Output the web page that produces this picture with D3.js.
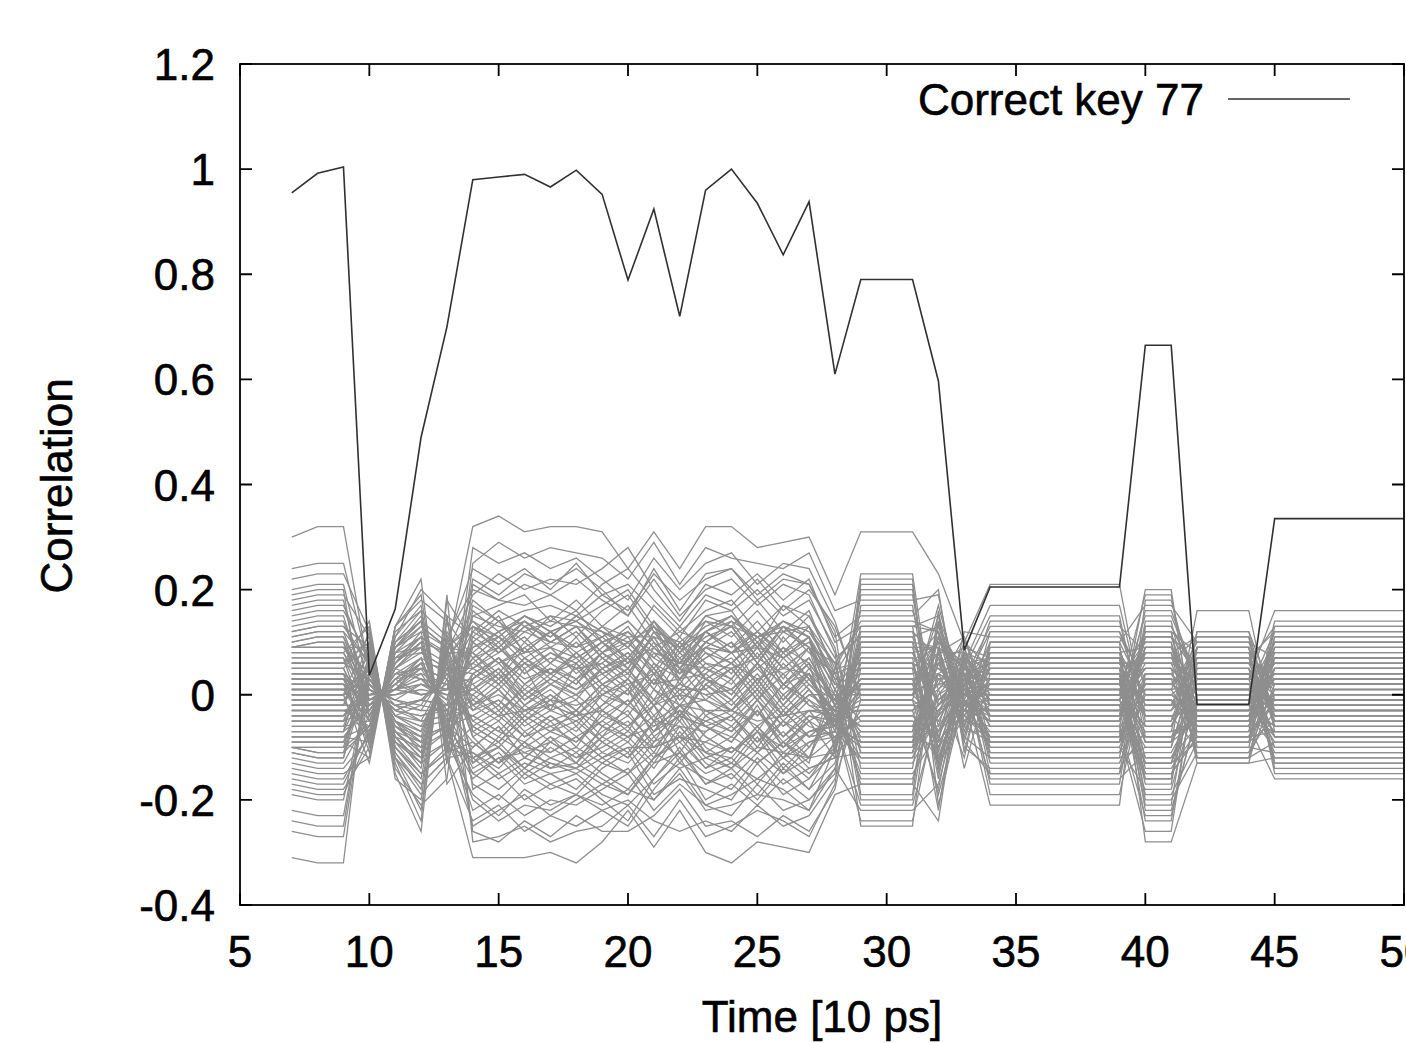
<!DOCTYPE html>
<html>
<head>
<meta charset="utf-8">
<script src="https://cdn.jsdelivr.net/npm/d3@7"></script>
<style>
  body { margin: 0; background: #fff; }
  text { font-family: "Liberation Sans", Arial, sans-serif; fill: #000; stroke: #000; stroke-width: 0.6px; }
</style>
</head>
<body>
<div id="chart"></div>
<script>
// correct key, one value per time step 7..50
var times = d3.range(7, 51);
var correctKey = [0.955, 0.992, 1.004, 0.037, 0.163, 0.49, 0.70, 0.98, 0.985, 0.99, 0.966, 0.998, 0.952,
    0.789, 0.924, 0.72, 0.96, 1.0, 0.935, 0.837, 0.938, 0.61, 0.79, 0.79, 0.79, 0.597, 0.085,
    0.205, 0.205, 0.205, 0.205, 0.205, 0.205, 0.665, 0.665, -0.018, -0.018, -0.018,
    0.335, 0.335, 0.335, 0.335, 0.335, 0.335];

// wrong keys: time steps covered by each column (flat runs share one column)
var colTimes = [[7], [8, 9], [10], [11], [12], [13], [14], [15], [16], [17], [18], [19], [20], [21],
    [22], [23], [24], [25], [26], [27], [28], [29, 30, 31], [32], [33], [34, 35, 36, 37, 38, 39],
    [40, 41], [42, 43, 44], [45, 46, 47, 48, 49, 50]];

// wrong key correlations in hundredths, one array per column, same line order in each
var c7 = [30,-13,5,-2,12,-9,20,-31, 1,8,-5,15,-17,3,-10,24, -7,9,-1,-22,6,17,-11,0, -4,11,-15,22,-8,4,-26,13,
    -3,9,-19,7,-10,2,18,-6, 10,-14,-24,14,6,-12,8,-2, 3,-9,16,-16,0,10,-5,19, -10,5,-7,9,-18,12,-4,2,
    6,-3,1,-8,4,-1,9,-5, 2,-11,7,0,-6,3,-9,5, -2,8,-4,1,-7,11,-1,4, 9,-10,0,3,-3,6,-8,1];
var c8 = [32,-14,5,-2,13,-9,21,-32, 1,8,-5,16,-18,3,-11,25, -7,10,-1,-23,6,18,-12,0, -4,12,-16,23,-8,4,-27,14,
    -3,9,-20,7,-10,2,19,-6, 11,-15,-25,15,6,-13,8,-2, 3,-9,17,-17,0,11,-5,20, -11,5,-7,9,-19,13,-4,2,
    6,-3,1,-8,4,-1,10,-5, 2,-12,7,0,-6,3,-9,5, -2,8,-4,1,-7,12,-1,4, 9,-10,0,3,-3,6,-8,1];
var c10 = [4,-8,11,-2,6,-12,1,9, -5,13,-3,7,-10,2,-6,5, 10,-1,-9,3,14,-4,8,-13, 0,6,-7,12,-2,-11,4,1,
    -6,9,3,-3,7,-8,11,-5, 2,-12,5,-1,8,-4,0,10, -9,3,6,-7,12,-2,1,-10, 7,-5,-3,4,-8,9,2,-1,
    3,-1,5,-6,0,2,-4,7, -2,4,-8,1,6,-3,0,-5, 8,-2,2,-7,3,-1,5,-4, 1,-6,4,0,-3,10,-9,2];
var c11 = [-5,9,-12,1,-7,13,-2,-10, 6,-15,4,-8,11,-3,7,-4, -11,2,10,-4,-16,5,-9,13, 1,-7,8,-13,3,12,-5,-1,
    7,-10,-2,4,-8,9,-12,6, -3,13,-6,2,-9,5,0,-11, 10,-4,-7,8,-14,3,-1,11, -8,6,2,-5,9,-10,-3,1,
    -4,2,-6,5,1,-3,3,-8, 1,-5,9,-2,-7,4,1,6, -9,3,-1,8,-4,0,-6,5, -2,7,-5,1,4,-12,10,-3];
var c12 = [-11,15,-22,6,-9,19,-3,-16, 12,-26,3,-14,17,-1,9,-6, -18,7,14,-2,-20,10,-13,22, 4,-12,11,-24,0,16,-7,2,
    8,-15,-5,5,-10,13,-19,10, -1,18,-8,6,-12,3,1,-17, 14,-5,-11,9,-21,7,-2,20, -13,11,0,-9,12,-15,-4,5,
    -7,5,-10,9,2,-5,6,-13, 3,-8,14,-1,-12,7,0,10, -15,4,-3,13,-6,2,-9,8, -1,11,-8,3,5,-17,16,-4];
var c13 = [8,-10,14,-4,7,-13,5,11, -9,18,-2,10,-12,4,-6,3, 12,-5,-9,6,15,-7,9,-17, -3,8,-8,19,1,-11,5,-1,
    5,-11,-4,3,-7,9,-13,8, -2,14,-6,5,-9,1,0,-12, 10,-4,-7,6,-16,4,-3,15, -9,7,1,-6,9,-10,-2,3,
    5,-3,7,-6,0,4,-4,9, -1,6,-10,2,8,-5,1,-7, -11,2,-3,9,-5,1,-6,5, -2,8,-6,2,3,-12,11,-3];
var c14 = [32,-12,7,-25,14,3,-8,20, -19,10,-4,24,-31,1,16,-6, 5,-15,28,-2,11,-22,8,-10, -14,19,0,-28,6,13,-5,17,
    2,-9,22,-17,9,-3,25,-13, 15,-7,-20,4,-11,18,1,-24, -1,12,-16,8,21,-6,3,-18, 10,-26,5,-4,13,-12,7,-2,
    9,-4,13,-10,2,6,-1,-7, 15,-12,4,-3,8,-15,0,11, -6,3,-9,14,-2,7,-13,5, 1,-8,10,-5,12,-11,-2,4];
var c15 = [34,-10,11,-22,9,7,-13,18, -23,6,-1,21,-31,5,12,-9, 8,-18,25,2,15,-19,3,-6, -11,23,-4,-27,10,8,-2,14,
    -3,-13,19,-20,12,1,29,-8, 17,-4,-24,7,-15,14,-2,-21, 3,16,-12,4,18,-9,7,-15, 6,-28,9,-7,11,-16,2,0,
    11,-7,10,-6,5,3,-4,-10, 13,-9,1,-1,12,-12,4,8, -3,6,-13,11,-5,9,-10,2, 4,-5,14,-8,9,-14,1,7];
var c16 = [31,-14,6,-19,13,2,-9,21, -18,9,-6,24,-31,-1,15,-4, 11,-14,27,-3,8,-23,6,-12, -16,20,2,-25,4,12,-7,10,
    1,-10,23,-15,14,-5,26,-11, 19,-8,-21,3,-12,16,5,-26, -2,13,-17,10,17,-4,0,-20, 8,-24,4,-9,15,-13,7,-3,
    8,-2,14,-12,0,9,-3,-5, 12,-14,6,-5,7,-11,-2,13, -8,1,-7,15,0,5,-15,7, -1,-10,8,-3,14,-9,-4,2];
var c17 = [32,-9,9,-23,11,5,-14,19, -21,12,-3,20,-30,2,13,-7, 6,-17,24,0,12,-20,4,-8, -13,22,-1,-28,8,10,-4,15,
    -2,-11,21,-18,10,-1,28,-9, 14,-6,-22,5,-14,17,-3,-23, 1,15,-15,6,19,-7,4,-17, 9,-27,7,-5,12,-15,3,-1,
    12,-5,11,-8,3,4,-2,-9, 14,-10,2,-2,10,-13,2,9, -4,5,-11,12,-3,8,-12,4, 3,-7,12,-6,10,-12,0,6];
var c18 = [32,-12,4,-20,15,3,-11,22, -19,8,-5,25,-32,0,16,-5, 10,-15,26,-4,9,-21,7,-13, -15,21,3,-26,5,13,-8,11,
    0,-8,24,-16,13,-6,27,-12, 18,-9,-19,2,-13,15,6,-25, -3,14,-18,11,16,-3,1,-19, 7,-23,5,-10,14,-14,8,-2,
    7,-3,15,-11,1,8,-4,-6, 13,-13,5,-4,9,-14,-1,12, -7,2,-8,14,-1,6,-14,6, 0,-9,9,-4,13,-10,-3,3];
var c19 = [31,-8,8,-17,12,6,-15,18, -22,11,-2,19,-28,3,10,-9, 5,-19,22,1,13,-18,2,-6, -12,24,-3,-25,9,7,-5,16,
    -4,-12,20,-20,8,0,26,-10, 13,-5,-21,8,-16,19,-1,-22, 2,17,-13,4,21,-8,5,-14, 10,-26,6,-3,11,-17,4,0,
    10,-6,12,-7,4,2,-3,-11, 12,-8,0,0,11,-11,5,7, -2,7,-12,10,-6,10,-9,1, 5,-4,13,-9,8,-13,2,8];
var c20 = [24,-2,12,-14,6,10,-18,15, -25,14,3,16,-22,7,5,-12, 1,-21,18,5,17,-15,-2,-3, -9,28,-7,-21,13,3,-8,19,
    -6,-15,15,-24,4,2,22,-7, 9,-1,-18,11,-19,21,-4,-20, 4,20,-10,0,24,-11,8,-11, 12,-26,2,1,7,-19,6,3,
    6,-8,10,-4,7,0,-6,-13, 9,-5,-2,3,14,-8,7,4, 1,9,-10,7,-9,12,-6,-2, 8,-1,11,-12,5,-15,5,10];
var c21 = [31,-6,7,-20,14,5,-12,22, -18,9,-4,23,-29,1,14,-7, 8,-16,26,-2,10,-22,6,-10, -14,20,1,-27,6,12,-6,12,
    -1,-9,24,-16,12,-5,29,-10, 17,-7,-20,4,-12,16,3,-24, -1,13,-17,9,18,-5,2,-19, 8,-23,4,-8,13,-13,9,-2,
    11,-4,13,-9,2,5,-2,-8, 14,-11,3,-2,9,-13,1,10, -5,4,-10,13,-2,7,-12,4, 2,-7,11,-5,11,-11,-1,5];
var c22 = [24,-3,4,-14,9,-1,-8,15, -12,5,1,18,-22,-4,8,-2, 3,-10,20,2,6,-17,0,-5, -7,14,-2,-20,3,7,-3,10,
    2,-6,16,-11,5,-2,21,-8, 12,-4,-15,6,-9,11,1,-26, -5,9,-13,4,13,-6,3,-16, 6,-18,1,-4,8,-11,5,0,
    4,-9,8,-2,8,-2,-8,-12, 6,-3,-4,5,12,-6,9,2, 3,10,-8,5,-11,13,-4,-4, 10,0,9,-13,3,-14,7,11];
var c23 = [32,-8,9,-21,13,3,-14,20, -20,10,-3,22,-30,2,15,-6, 7,-17,25,0,12,-21,5,-11, -13,21,-1,-27,8,11,-5,14,
    0,-12,23,-17,10,-3,28,-9, 16,-6,-22,5,-14,18,1,-24, 2,15,-16,7,19,-7,4,-18, 9,-25,6,-6,12,-15,3,-1,
    12,-5,12,-8,3,4,-3,-9, 14,-10,2,-1,10,-12,3,9, -4,5,-11,12,-4,8,-11,3, 3,-6,12,-7,10,-12,1,6];
var c24 = [32,-11,6,-19,15,1,-10,22, -17,8,-6,24,-32,-1,16,-4, 10,-14,27,-3,9,-23,7,-12, -16,19,3,-25,4,13,-7,11,
    1,-10,24,-15,14,-5,26,-11, 18,-8,-21,3,-12,16,5,-26, -2,13,-18,10,17,-4,0,-20, 8,-24,5,-9,15,-13,6,-3,
    8,-3,14,-11,1,8,-3,-6, 13,-13,5,-4,8,-14,-1,12, -7,2,-8,15,-1,6,-14,6, 0,-9,9,-4,13,-10,-3,3];
var c25 = [28,-7,10,-16,11,6,-13,17, -21,12,-1,19,-28,4,9,-9, 5,-19,21,2,14,-17,1,-6, -11,23,-4,-22,10,6,-3,16,
    -4,-13,18,-20,7,0,25,-7, 12,-3,-19,9,-17,20,-1,-21, 3,18,-12,2,22,-9,6,-13, 11,-27,7,-2,10,-16,3,1,
    9,-6,11,-6,5,2,-5,-11, 11,-7,-1,1,12,-10,6,6, -1,8,-11,9,-7,11,-8,0, 6,-3,12,-10,7,-13,3,9];
var c26 = [29,-10,5,-18,14,2,-9,21, -16,7,-6,23,-29,-2,17,-5, 9,-13,25,-4,8,-22,8,-11, -15,18,2,-24,3,12,-8,10,
    2,-9,22,-14,13,-6,24,-12, 17,-9,-20,2,-11,15,4,-25, -3,12,-17,11,16,-3,-1,-19, 7,-23,4,-10,14,-12,5,-4,
    7,-2,13,-12,0,9,-4,-5, 12,-14,6,-5,8,-11,-2,13, -8,1,-7,14,0,5,-15,7, -1,-10,8,-3,13,-9,-4,2];
var c27 = [30,-7,9,-22,12,4,-14,19, -20,11,-3,21,-30,3,13,-8, 6,-18,24,1,13,-20,3,-7, -12,22,-2,-27,9,9,-4,15,
    -1,-12,21,-18,11,-1,27,-9, 15,-5,-22,6,-15,18,-2,-23, 2,16,-14,5,20,-8,5,-16, 10,-26,7,-4,12,-16,4,0,
    11,-6,11,-7,4,3,-3,-10, 13,-9,1,0,11,-12,4,8, -3,6,-12,11,-5,9,-10,2, 4,-5,13,-8,9,-13,1,7];
var c28 = [19,-5,-2,-10,4,-6,-12,8, -14,1,-4,11,-19,-3,6,-7, -1,-9,14,-5,3,-15,-4,-6, -8,10,-3,-17,0,2,-5,5,
    -4,-11,12,-13,1,-6,16,-8, 7,-2,-14,-1,-10,9,-5,-16, -3,4,-12,0,13,-7,-2,-11, 3,-18,-1,-6,6,-9,-4,-3,
    -2,-8,3,-6,-1,-4,-9,-3, 2,-7,-5,0,-11,-2,-6,4, -3,-10,1,-5,-8,6,-4,-1, -7,-12,2,-4,-9,5,-6,-2];
var c29 = [31,-13,6,-3,12,-9,19,-25, 2,8,-6,15,-17,3,-11,23, -7,10,-1,-21,5,17,-12,0, -4,13,-16,22,-8,4,-24,14,
    -2,9,-19,7,-10,1,18,-5, 11,-15,-22,16,6,-14,8,-1, 3,-9,20,-17,0,11,-6,21, -11,5,-7,10,-20,13,-3,2,
    7,-4,2,-9,4,-2,12,-6, 1,-12,8,0,-7,3,-10,6, -3,9,-5,1,-8,13,-1,5, 10,-11,0,3,-4,6,-9,2];
var c32 = [23,-4,12,-18,7,3,-9,14, -13,9,-2,20,-24,5,4,-11, 6,-16,17,-3,10,-12,1,-5, -8,15,0,-21,8,6,-1,12,
    -3,-8,16,-14,11,2,19,-6, 13,-7,-17,1,-10,14,-4,-19, 4,11,-12,9,15,-2,7,-15, 8,-22,3,-1,9,-13,2,-7,
    5,-9,10,-4,6,1,-6,-12, 8,-3,-2,4,13,-7,8,3, 2,9,-9,6,-10,12,-5,-1, 9,0,10,-13,4,-14,6,11];
var c33 = [10,2,-3,7,-8,4,12,-1, 5,-6,3,-11,8,0,1,6, -4,9,-2,4,-14,2,7,-5, 3,-9,6,0,11,-3,4,-7,
    1,5,-10,8,-1,3,-6,9, -2,6,2,-12,4,-4,10,0, 7,-5,3,-8,1,6,-3,5, -6,8,-1,4,-9,2,11,-2,
    3,-2,5,1,-4,6,0,-3, 8,-1,2,-5,4,1,-7,3, 0,5,-2,7,-3,-1,4,2, -6,3,6,-4,1,-2,9,0];
var c34 = [21,-6,3,-13,8,-2,11,-21, 1,5,-9,10,-15,2,-4,17, -8,7,-1,-17,4,12,-10,0, -3,9,-12,14,-5,3,-19,6,
    -1,4,-14,6,-7,1,12,-4, 8,-11,-16,10,3,-9,5,-2, 2,-6,13,-12,0,7,-3,15, -9,4,-5,6,-15,9,-2,1,
    5,-3,1,-8,3,-1,8,-5, 0,-10,6,-2,-6,2,-7,4, -3,7,-4,0,-8,10,-1,3, 7,-11,-1,2,-4,5,-9,0];
var c40 = [-5,12,-21,0,9,-16,3,18, -13,7,11,-28,1,-8,16,-4, 8,-22,5,13,-12,2,-18,19, -1,-9,14,-6,20,-24,4,-3,
    15,-15,-7,6,-26,10,-2,9, -20,3,-11,17,-1,11,-19,5, 12,-23,8,-10,1,-14,6,-8, 4,-17,9,-4,13,-9,2,-13,
    -3,8,-6,2,5,-10,0,11, -7,3,6,-15,-2,-4,9,-1, 4,-12,1,7,-8,0,-13,10, -2,-5,8,-9,12,-16,2,-6];
var c42 = [5,-12,9,-3,1,12,-8,-1, -9,2,6,-13,10,-5,3,-2, 11,-4,-11,4,-6,8,0,-10, -3,16,-7,2,-12,5,-1,7,
    3,-8,12,-5,6,-13,9,-4, -11,1,-2,10,-6,4,-9,0, 8,-3,-12,6,2,-7,11,-1, -4,9,1,-10,3,-5,7,4,
    2,-6,5,-1,0,7,-4,-2, -5,1,3,-8,6,-3,1,-9, 6,-2,-7,2,-4,4,-1,-6, -1,9,-3,0,-8,3,-2,4];
var c45 = [-2,9,-14,5,12,-6,1,-9, 13,-4,3,-12,7,-1,16,-8, -5,10,-3,6,-16,2,-11,11, 4,-7,14,-2,0,-13,8,-5,
    -10,5,-1,12,-4,7,-15,3, 2,-12,9,-3,11,-8,1,6, -6,3,-9,13,-1,5,-13,10, 7,-3,4,-11,2,-7,12,0,
    -1,5,-8,3,7,-4,0,-6, 8,-2,2,-7,4,-1,10,-5, -3,6,-2,3,-10,1,-7,7, 2,-4,9,-1,-1,-8,5,-3];

var wrongCols = [c7, c8, c10, c11, c12, c13, c14, c15, c16, c17, c18, c19, c20, c21, c22, c23, c24,
    c25, c26, c27, c28, c29, c32, c33, c34, c40, c42, c45];

var xTicks = [5, 10, 15, 20, 25, 30, 35, 40, 45, 50];
var yTicks = [-0.4, -0.2, 0, 0.2, 0.4, 0.6, 0.8, 1, 1.2];

makePlot();

function makePlot() {
    // STEP 1: SET UP THE CANVAS
    var svgWidth = 1406;
    var svgHeight = 1043;
    var left = 240, right = 1404, top = 64, bottom = 905;

    var svg = d3.select("#chart")
        .append("svg")
        .attr("width", svgWidth)
        .attr("height", svgHeight);

    // STEP 2: SCALES
    var xScale = d3.scaleLinear().domain([5, 50]).range([left, right]);
    var yScale = d3.scaleLinear().domain([-0.4, 1.2]).range([bottom, top]);

    // STEP 3: BUILD THE LINES
    var nLines = d3.min(wrongCols, c => c.length);
    var wrongLines = d3.range(nLines).map(function(i) {
        var pts = [];
        colTimes.forEach(function(ts, c) {
            ts.forEach(t => pts.push({ t: t, v: wrongCols[c][i] / 100 }));
        });
        return pts;
    });
    var correctLine = times.map((t, i) => ({ t: t, v: correctKey[i] }));

    var line = d3.line()
        .x(d => xScale(d.t))
        .y(d => yScale(d.v));

    // gray wrong keys first, correct key on top
    svg.append("g")
        .selectAll("path")
        .data(wrongLines)
        .enter()
        .append("path")
        .attr("d", line)
        .attr("fill", "none")
        .attr("stroke", "#8e8e8e")
        .attr("stroke-width", 1.3);

    svg.append("path")
        .datum(correctLine)
        .attr("d", line)
        .attr("fill", "none")
        .attr("stroke", "#303030")
        .attr("stroke-width", 1.6);

    // STEP 4: AXES (gnuplot style, ticks inside on all sides)
    var tickLen = 12;
    var axisG = svg.append("g").attr("stroke", "#000").attr("stroke-width", 1.8);

    axisG.selectAll(".xt")
        .data(xTicks)
        .enter()
        .append("path")
        .attr("d", d => `M${xScale(d)},${bottom}v${-tickLen}M${xScale(d)},${top}v${tickLen}`);

    axisG.selectAll(".yt")
        .data(yTicks)
        .enter()
        .append("path")
        .attr("d", d => `M${left},${yScale(d)}h${tickLen}M${right},${yScale(d)}h${-tickLen}`);

    axisG.append("rect")
        .attr("x", left)
        .attr("y", top)
        .attr("width", right - left)
        .attr("height", bottom - top)
        .attr("fill", "none");

    svg.append("g")
        .selectAll("text")
        .data(xTicks)
        .enter()
        .append("text")
        .attr("x", d => xScale(d))
        .attr("y", 967)
        .attr("text-anchor", "middle")
        .attr("font-size", 44)
        .text(d => d);

    // plain hyphen for negatives, like the original
    svg.append("g")
        .selectAll("text")
        .data(yTicks)
        .enter()
        .append("text")
        .attr("x", 215)
        .attr("y", d => yScale(d) + 16)
        .attr("text-anchor", "end")
        .attr("font-size", 44)
        .text(d => String(+d.toFixed(1)));

    // STEP 5: LABELS
    svg.append("text")
        .attr("transform", "translate(72, 486) rotate(-90)")
        .attr("text-anchor", "middle")
        .attr("font-size", 44)
        .text("Correlation");

    svg.append("text")
        .attr("x", 822)
        .attr("y", 1032)
        .attr("text-anchor", "middle")
        .attr("font-size", 44)
        .text("Time [10 ps]");

    // STEP 6: LEGEND
    svg.append("text")
        .attr("x", 1204)
        .attr("y", 115)
        .attr("text-anchor", "end")
        .attr("font-size", 44)
        .text("Correct key 77");

    svg.append("line")
        .attr("x1", 1228)
        .attr("x2", 1350)
        .attr("y1", 99)
        .attr("y2", 99)
        .attr("stroke", "#303030")
        .attr("stroke-width", 1.6);
}
</script>
</body>
</html>
